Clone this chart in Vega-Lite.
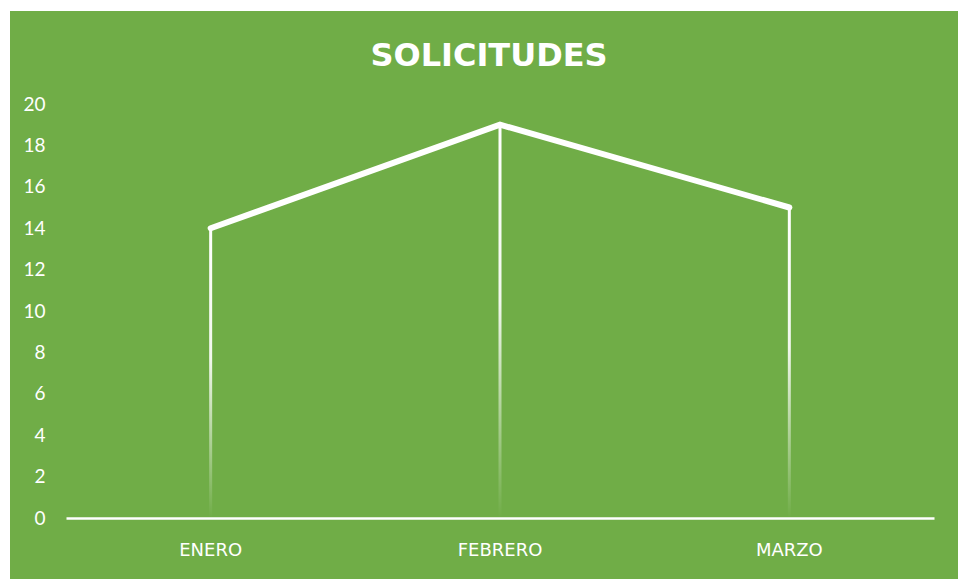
{
  "$schema": "https://vega.github.io/schema/vega-lite/v6.json",
  "width": 948,
  "height": 568,
  "autosize": "none",
  "padding": {"left": 10, "top": 11, "right": 0, "bottom": 0},
  "background": "white",
  "config": {
    "view": {"fill": "#70AD47", "stroke": null},
    "font": "Lato"
  },
  "title": {
    "text": "SOLICITUDES",
    "font": "DejaVu Sans",
    "fontSize": 32,
    "fontWeight": "bold",
    "color": "white",
    "anchor": "middle",
    "frame": "group",
    "offset": -62,
    "dx": 5
  },
  "data": {
    "values": [
      {"mes": "ENERO", "valor": 14},
      {"mes": "FEBRERO", "valor": 19},
      {"mes": "MARZO", "valor": 15}
    ]
  },
  "encoding": {
    "x": {
      "field": "mes",
      "type": "nominal",
      "sort": null,
      "scale": {"range": [56, 924], "paddingInner": 0, "paddingOuter": 0},
      "axis": {
        "title": null,
        "orient": "bottom",
        "offset": -61,
        "domainColor": "white",
        "domainWidth": 2.5,
        "ticks": false,
        "labelColor": "white",
        "labelFont": "DejaVu Sans",
        "labelFontSize": 18,
        "labelPadding": 23,
        "labelAngle": 0,
        "grid": false
      }
    },
    "y": {
      "field": "valor",
      "type": "quantitative",
      "scale": {"domain": [0, 20], "range": [507, 93], "nice": false},
      "axis": {
        "title": null,
        "orient": "left",
        "offset": -39,
        "values": [0, 2, 4, 6, 8, 10, 12, 14, 16, 18, 20],
        "domain": false,
        "ticks": false,
        "grid": false,
        "labelColor": "white",
        "labelFont": "Lato",
        "labelFontSize": 19,
        "labelPadding": 4
      }
    }
  },
  "layer": [
    {
      "mark": {
        "type": "bar",
        "size": 3,
        "fill": {
          "gradient": "linear",
          "x1": 0, "y1": 0, "x2": 0, "y2": 1,
          "stops": [
            {"offset": 0, "color": "rgba(255,255,255,1)"},
            {"offset": 0.45, "color": "rgba(255,255,255,0.9)"},
            {"offset": 1, "color": "rgba(255,255,255,0)"}
          ]
        }
      }
    },
    {
      "mark": {
        "type": "line",
        "color": "white",
        "strokeWidth": 6,
        "strokeCap": "round"
      }
    }
  ]
}
